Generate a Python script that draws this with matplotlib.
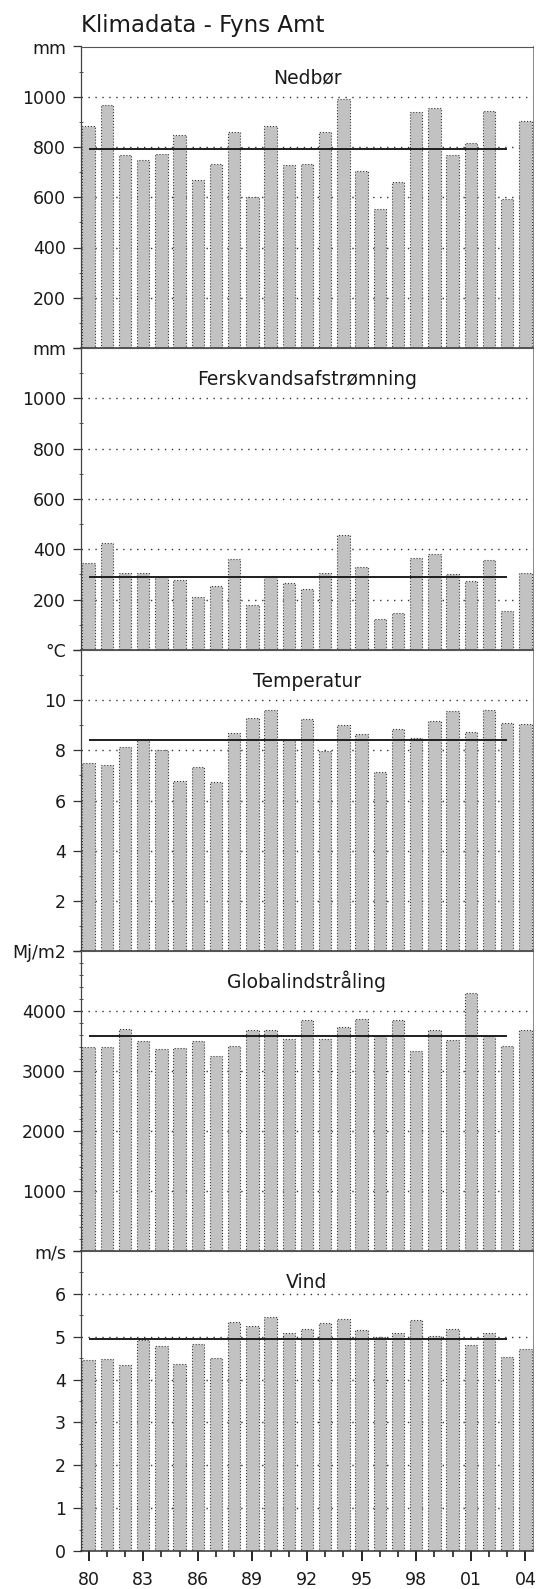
import numpy as np
import matplotlib
matplotlib.use("Agg")
import matplotlib.pyplot as plt
from matplotlib.ticker import MultipleLocator

# Annual climate series for Fyns Amt, 1980-2004
years = list(range(1980, 2005))

nedboer = [883, 968, 770, 747, 774, 849, 670, 732, 861, 601, 883, 728, 732,
           861, 991, 705, 555, 660, 938, 955, 767, 815, 943, 592, 902]          # mm
ferskvand = [346, 424, 305, 306, 290, 279, 210, 254, 360, 177, 294, 267, 243,
             307, 457, 328, 122, 146, 364, 382, 300, 274, 359, 156, 306]        # mm
temperatur = [7.48, 7.40, 8.13, 8.43, 8.02, 6.79, 7.32, 6.75, 8.70, 9.28, 9.61,
              8.41, 9.26, 7.98, 9.00, 8.65, 7.12, 8.84, 8.51, 9.16, 9.55, 8.74,
              9.60, 9.07, 9.03]                                                 # °C
globalstraaling = [3395, 3401, 3700, 3495, 3368, 3390, 3501, 3257, 3412, 3684,
                   3689, 3528, 3845, 3528, 3739, 3867, 3584, 3845, 3329, 3689,
                   3523, 4305, 3578, 3423, 3684]                                # MJ/m2
vind = [4.46, 4.49, 4.33, 4.93, 4.78, 4.37, 4.82, 4.51, 5.34, 5.25, 5.46, 5.08,
        5.18, 5.31, 5.42, 5.15, 4.99, 5.08, 5.39, 5.02, 5.19, 4.81, 5.08, 4.53,
        4.71]                                                                   # m/s

titles = ["Nedbør", "Ferskvandsafstrømning", "Temperatur", "Globalindstråling", "Vind"]
units = ["mm", "mm", "°C", "Mj/m2", "m/s"]
series = [nedboer, ferskvand, temperatur, globalstraaling, vind]
y_max = [1200, 1200, 12, 5000, 7]
y_major = [200, 200, 2, 1000, 1]
y_minor = [100, 100, 1, 200, 0.5]

# the mean line covers 1980-2003
mean_period = years[:-1]

W, H = 540, 1589
fig = plt.figure(figsize=(W / 100, H / 100), dpi=100)
fig.patch.set_facecolor("white")

left_px, right_px = 81, 533
panel_edges = [46.5, 348, 650, 951, 1251, 1551]
txt = "#1a1a1a"

x = np.arange(len(years))
n_mean = len(mean_period)

fig.text(left_px / W, 1 - 32.3 / H, "Klimadata - Fyns Amt", fontsize=16.5,
         ha="left", va="baseline", color=txt)

for i, (title, unit, vals, ymax, maj, mnr) in enumerate(
        zip(titles, units, series, y_max, y_major, y_minor)):
    top, bot = panel_edges[i], panel_edges[i + 1]
    ax = fig.add_axes([left_px / W, 1 - bot / H, (right_px - left_px) / W, (bot - top) / H])
    last = i == len(series) - 1

    ax.bar(x, vals, width=0.68, color="#c2c2c2", edgecolor="#3a3a3a",
           linewidth=0.8, linestyle=":", zorder=2)

    mean = float(np.mean(vals[:n_mean]))
    ax.plot([x[0], x[n_mean - 1]], [mean, mean], color="#1e1e1e", lw=1.4,
            zorder=3, solid_capstyle="butt")

    ax.set_xlim(-0.42, len(years) - 1 + 0.42)
    ax.set_ylim(0, ymax)

    ticks = np.arange(0, ymax + maj / 2, maj)
    labels = []
    for t in ticks:
        if np.isclose(t, ymax):
            labels.append(unit)
        elif t == 0 and not last:
            labels.append("")
        else:
            labels.append(f"{t:g}")
    ax.set_yticks(ticks)
    ax.set_yticklabels(labels)
    ax.yaxis.set_minor_locator(MultipleLocator(mnr))
    ax.tick_params(axis="y", which="major", length=5.8, width=0.9, pad=5,
                   labelsize=12.5, color="#333333", labelcolor=txt)
    ax.tick_params(axis="y", which="minor", direction="inout", length=3,
                   width=0.7, color="#555555")

    for t in ticks[1:-1]:
        ax.axhline(t, color="#333333", lw=1.0, ls=(0, (1, 4)), zorder=1)

    for side, lw, col in [("left", 0.9, "#444444"), ("bottom", 1.1, "#333333"),
                          ("top", 0.8, "#555555"), ("right", 0.7, "#888888")]:
        ax.spines[side].set_linewidth(lw)
        ax.spines[side].set_color(col)

    ax.text(0.5, 1 - 37 / (bot - top), title, transform=ax.transAxes,
            ha="center", va="baseline", fontsize=13.5, color=txt)

    if last:
        ax.set_xticks(x[::3])
        ax.set_xticklabels([f"{y % 100:02d}" for y in years[::3]])
        ax.set_xticks(x, minor=True)
        ax.tick_params(axis="x", which="major", length=7.2, width=1.4, pad=7.5,
                       labelsize=12.5, color="#222222", labelcolor=txt)
        ax.tick_params(axis="x", which="minor", length=4.3, width=1.2,
                       color="#222222")
    else:
        ax.tick_params(axis="x", which="both", bottom=False, labelbottom=False)

fig.savefig("out.png", dpi=100, facecolor="white")
